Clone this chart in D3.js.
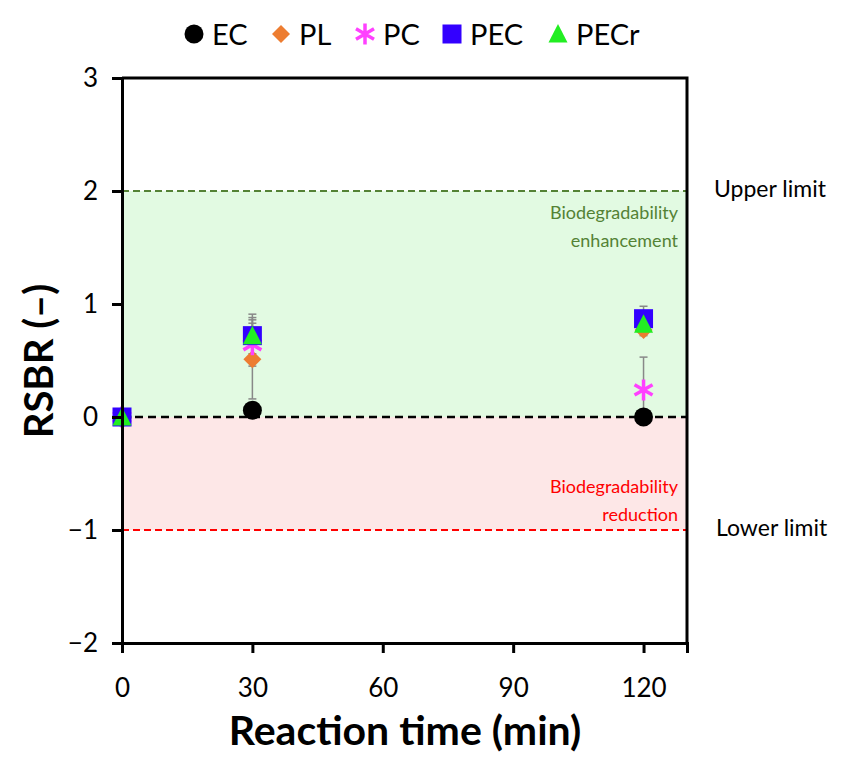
<!DOCTYPE html>
<html>
<head>
<meta charset="utf-8">
<script src="https://cdn.jsdelivr.net/npm/d3@7"></script>
<style>
  body { margin: 0; background: #fff; }
  text { font-family: Lato, "Open Sans", sans-serif; }
</style>
</head>
<body>
<script>
// reaction times (min)
const times = [0, 30, 120];
const seriesNames = ["EC", "PL", "PC", "PEC", "PECr"];
const seriesColors = ["#000000", "#ED7D31", "#FF40FF", "#3300FF", "#22EE22"];
// RSBR means per series
const ecValues   = [0, 0.06, 0.00];
const plValues   = [0, 0.51, 0.77];
const pcValues   = [0, 0.64, 0.24];
const pecValues  = [0, 0.72, 0.87];
const pecrValues = [0, 0.72, 0.82];
// error (+/-)
const ecErr   = [0, 0.05, 0.04];
const plErr   = [0, 0.35, 0.05];
const pcErr   = [0, 0.19, 0.29];
const pecErr  = [0, 0.16, 0.11];
const pecrErr = [0, 0.19, 0.08];
const xTicks = [0, 30, 60, 90, 120];
const yTicks = [-2, -1, 0, 1, 2, 3];
const upperLimit = 2, lowerLimit = -1;

const allValues = [ecValues, plValues, pcValues, pecValues, pecrValues];
const allErr = [ecErr, plErr, pcErr, pecErr, pecrErr];

const margin = {top: 78, right: 159, bottom: 115, left: 122},
    width  = 846 - margin.left - margin.right,
    height = 758 - margin.top - margin.bottom;

const svg = d3.select("body").append("svg")
    .attr("width", 846)
    .attr("height", 758);

const chart = svg.append("g")
    .attr("transform", "translate(" + margin.left + "," + margin.top + ")");

const xScale = d3.scaleLinear().domain([0, 130]).range([0, width]);
const yScale = d3.scaleLinear().domain([-2, 3]).range([height, 0]);

// shaded zones
chart.append("rect")
    .attr("x", 0).attr("width", width)
    .attr("y", yScale(upperLimit)).attr("height", yScale(0) - yScale(upperLimit))
    .attr("fill", "#E2FAE2");
chart.append("rect")
    .attr("x", 0).attr("width", width)
    .attr("y", yScale(0)).attr("height", yScale(lowerLimit) - yScale(0))
    .attr("fill", "#FDE7E7");

// dashed lines
[[upperLimit, "#548235"], [0, "#000"], [lowerLimit, "#FF0000"]].forEach(function(d){
    chart.append("line")
        .attr("x1", 0).attr("x2", width)
        .attr("y1", yScale(d[0])).attr("y2", yScale(d[0]))
        .attr("stroke", d[1])
        .attr("stroke-width", d[0] === 0 ? 2.5 : 2)
        .attr("stroke-dasharray", d[0] === 0 ? "8,5" : "7,4");
});

// zone labels
function zoneLabel(lines, y, color){
    chart.append("text")
        .attr("y", y)
        .attr("text-anchor", "end").attr("font-size", "18px").attr("fill", color)
        .selectAll("tspan").data(lines).enter()
        .append("tspan").attr("x", width - 9).attr("dy", function(d, i){ return i ? 28 : 0; })
        .text(function(d){ return d; });
}
zoneLabel(["Biodegradability", "enhancement"], yScale(upperLimit) + 28, "#548235");
zoneLabel(["Biodegradability", "reduction"], yScale(0) + 76, "#FF0000");

// limit labels to the right
chart.append("text")
    .attr("x", width + 27).attr("y", yScale(upperLimit) + 6)
    .attr("font-size", "23px").attr("fill", "#000").text("Upper limit");
chart.append("text")
    .attr("x", width + 29).attr("y", yScale(lowerLimit) + 6)
    .attr("font-size", "23px").attr("fill", "#000").text("Lower limit");

// error bars
const errG = chart.append("g");
allValues.forEach(function(vals, s){
    vals.forEach(function(v, i){
        const e = allErr[s][i];
        if (!e) return;
        const x = xScale(times[i]);
        errG.append("line")
            .attr("x1", x).attr("x2", x)
            .attr("y1", yScale(v - e)).attr("y2", yScale(v + e))
            .attr("stroke", "#888").attr("stroke-width", 1.5);
        [v - e, v + e].forEach(function(c){
            errG.append("line")
                .attr("x1", x - 4).attr("x2", x + 4)
                .attr("y1", yScale(c)).attr("y2", yScale(c))
                .attr("stroke", "#888").attr("stroke-width", 1.5);
        });
    });
});

// marker shapes
function marker(g, name, color){
    if (name === "EC") {
        g.append("circle").attr("r", 9.5).attr("fill", color);
    } else if (name === "PL") {
        g.append("path").attr("d", "M0,-9L9,0L0,9L-9,0Z").attr("fill", color);
    } else if (name === "PC") {
        g.append("path")
            .attr("d", "M0,-10.5V10.5M-9,-5.2L9,5.2M-9,5.2L9,-5.2")
            .attr("stroke", color).attr("stroke-width", 3.5).attr("fill", "none");
    } else if (name === "PEC") {
        g.append("rect").attr("x", -9.5).attr("y", -9.5).attr("width", 19).attr("height", 19).attr("fill", color);
    } else {
        g.append("path").attr("d", "M0,-10L9.5,8.5L-9.5,8.5Z").attr("fill", color);
    }
}

allValues.forEach(function(vals, s){
    chart.selectAll(".pt" + s)
        .data(vals)
        .enter()
        .append("g")
        .attr("class", "pt" + s)
        .attr("transform", function(d, i){ return "translate(" + xScale(times[i]) + "," + yScale(d) + ")"; })
        .each(function(){ marker(d3.select(this), seriesNames[s], seriesColors[s]); });
});

// axes
const yAxis = chart.append("g")
    .call(d3.axisLeft(yScale).tickValues(yTicks).tickSize(10).tickPadding(14)
        .tickFormat(function(d){ return d < 0 ? "\u2212" + Math.abs(d) : d; }));
const xAxis = chart.append("g")
    .attr("transform", "translate(0," + height + ")")
    .call(d3.axisBottom(xScale).tickValues(xTicks).tickSize(10).tickPadding(26));
[yAxis, xAxis].forEach(function(a){
    a.select(".domain").attr("stroke-width", 3);
    a.selectAll(".tick line").attr("stroke-width", 3);
    a.selectAll(".tick text").attr("font-size", "26px").attr("fill", "#000")
        .style("font-family", "Lato, sans-serif");
});

// frame
chart.append("path")
    .attr("d", "M0,0H" + width + "V" + height)
    .attr("fill", "none").attr("stroke", "#000").attr("stroke-width", 3);

// axis titles
svg.append("text")
    .attr("x", 405).attr("y", 745)
    .attr("text-anchor", "middle").attr("font-size", "41px").attr("font-weight", "bold")
    .text("Reaction time (min)");
svg.append("text")
    .attr("transform", "translate(53,361) rotate(-90)")
    .attr("text-anchor", "middle").attr("font-size", "40px").attr("font-weight", "bold")
    .text("RSBR (\u2013)");

// legend
const legendX = [194, 281, 365, 452, 558];
const legend = svg.append("g").attr("transform", "translate(0,34)");
seriesNames.forEach(function(n, i){
    const g = legend.append("g").attr("transform", "translate(" + legendX[i] + ",0)");
    marker(g, n, seriesColors[i]);
    g.append("text").attr("x", 18).attr("y", 11).attr("font-size", "29px").attr("fill", "#000").text(n);
});
</script>
</body>
</html>
